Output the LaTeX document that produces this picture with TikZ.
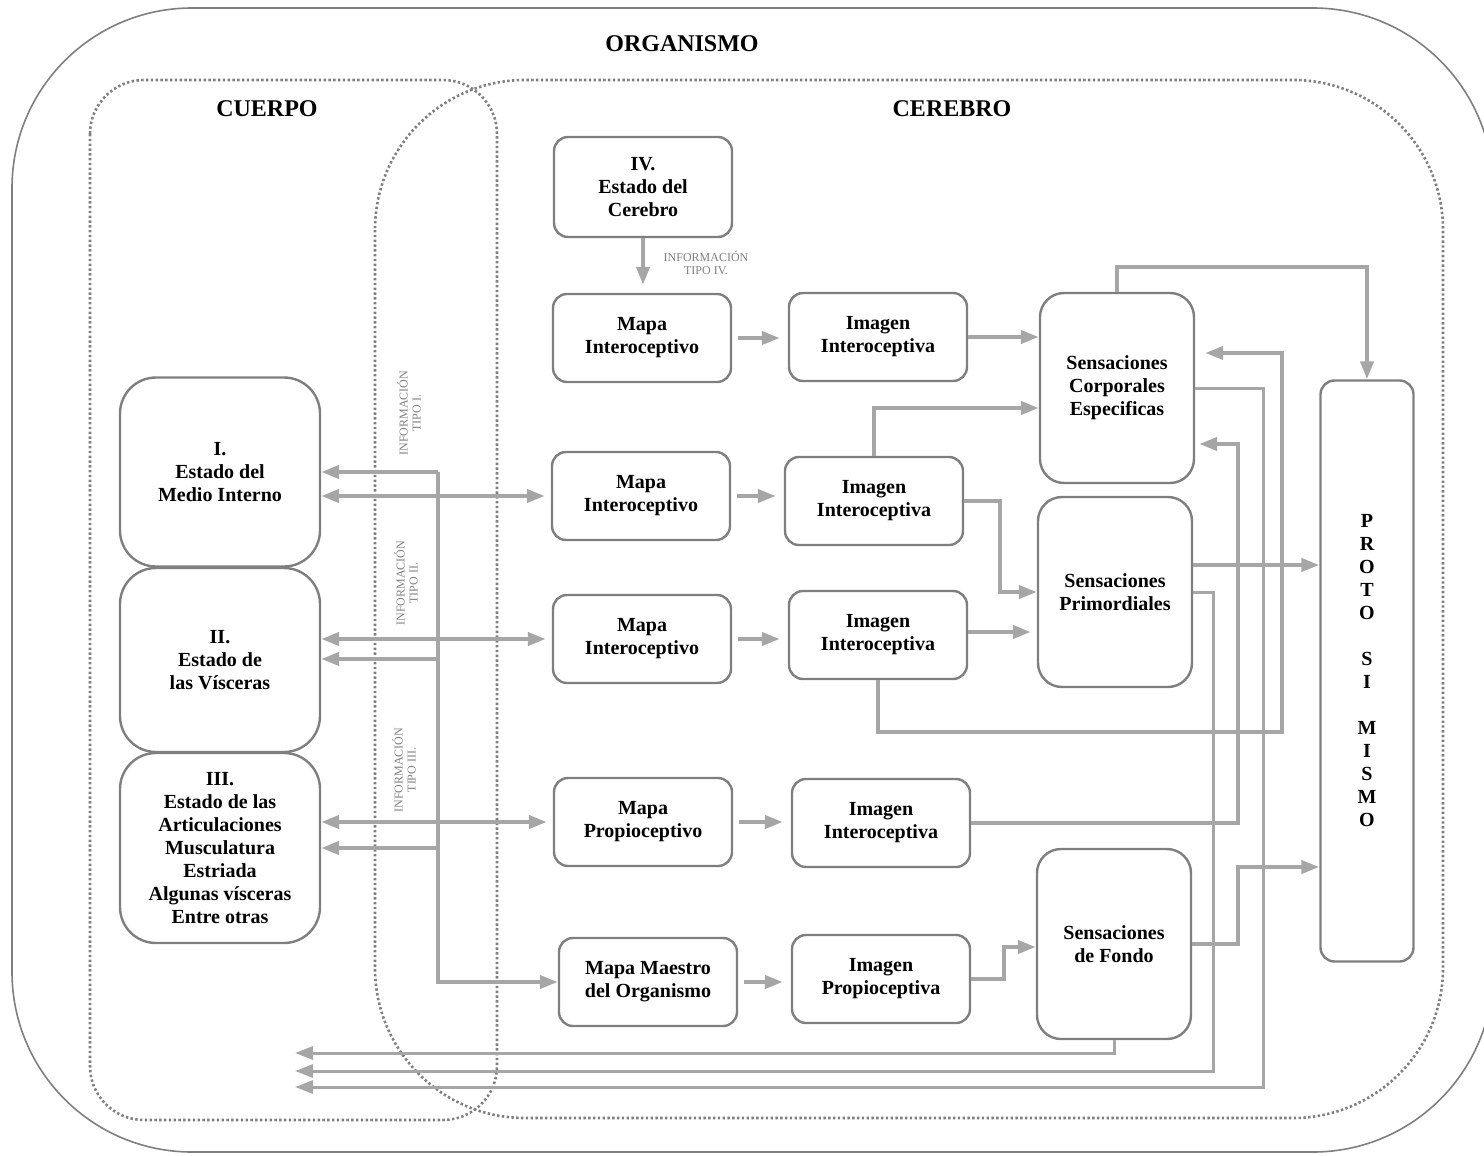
\documentclass[tikz,border=0pt]{standalone}
\usepackage{fontspec}
\setmainfont{Liberation Serif}
\usetikzlibrary{arrows.meta}
\definecolor{borde}{HTML}{7F7F7F}
\definecolor{flechagris}{HTML}{A6A6A6}

\begin{document}
\begin{tikzpicture}[x=0.5pt, y=-0.5pt,
  caja/.style={draw=borde, line width=1.2pt, rounded corners=7pt, fill=white, align=center, inner sep=0pt,
    minimum width=89pt, minimum height=44pt, font=\fontsize{10}{11.5}\selectfont\bfseries},
  sensa/.style={caja, rounded corners=12pt, minimum width=77pt, minimum height=95pt},
  estado/.style={caja, rounded corners=18pt, minimum width=100pt},
  titulo/.style={font=\fontsize{12}{14}\selectfont\bfseries},
  nota/.style={text=borde, align=center, font=\fontsize{6}{6.5}\selectfont},
  zona/.style={draw=borde, line width=1.3pt, dash pattern=on 1.2pt off 1.2pt},
  flecha/.style={draw=flechagris, line width=2pt, -{Triangle[length=9pt,width=6.5pt]}},
  doble/.style={flecha, {Triangle[length=9pt,width=6.5pt]}-{Triangle[length=9pt,width=6.5pt]}},
  retorno/.style={flecha, line width=1.5pt}
]
\clip(0,0) rectangle (1484,1156);
\draw[borde, line width=0.8pt, rounded corners=90pt](12,8) rectangle (1493,1152);
\draw[zona, rounded corners=27pt](90,80) rectangle (497,1120);
\draw[zona, rounded corners=75pt](375,80) rectangle (1443,1118);

\node[titulo] (organismo) at (682,44) {ORGANISMO};
\node[titulo] (cuerpo) at (267,109) {CUERPO};
\node[titulo] (cerebro) at (952,109) {CEREBRO};

\node[caja, minimum height=50pt] (iv) at (643,187) {IV.\\Estado del\\Cerebro};
\node[caja] (mapa1) at (642,338) {Mapa\\Interoceptivo};
\node[caja] (img1) at (878,337) {Imagen\\Interoceptiva};
\node[caja] (mapa2) at (641,496) {Mapa\\Interoceptivo};
\node[caja] (img2) at (874,501) {Imagen\\Interoceptiva};
\node[caja] (mapa3) at (642,639) {Mapa\\Interoceptivo};
\node[caja] (img3) at (878,635) {Imagen\\Interoceptiva};
\node[caja] (mprop) at (643,822) {Mapa\\Propioceptivo};
\node[caja] (img4) at (881,823) {Imagen\\Interoceptiva};
\node[caja] (mmaestro) at (648,982) {Mapa Maestro\\del Organismo};
\node[caja] (iprop) at (881,979) {Imagen\\Propioceptiva};
\node[sensa] (sce) at (1117,388) {Sensaciones\\Corporales\\Especificas};
\node[sensa] (spr) at (1115,592) {Sensaciones\\Primordiales};
\node[sensa] (sfondo) at (1114,944) {Sensaciones\\de Fondo};
\node[caja, minimum width=46.5pt, minimum height=290.5pt] (proto) at (1367,671)
  {P\\R\\O\\T\\O\\[11.5pt]S\\I\\[11.5pt]M\\I\\S\\M\\O};
\node[estado, minimum height=94.5pt] (est1) at (220,472) {I.\\Estado del\\Medio Interno};
\node[estado, minimum height=92pt] (est2) at (220,660) {II.\\Estado de\\las Vísceras};
\node[estado, minimum height=95pt] (est3) at (220,848)
  {III.\\Estado de las\\Articulaciones\\Musculatura\\Estriada\\Algunas vísceras\\Entre otras};

\node[nota] (tipo4) at (706,263) {INFORMACIÓN\\TIPO IV.};
\node[nota, rotate=90] (tipo1) at (409,413) {INFORMACIÓN\\TIPO I.};
\node[nota, rotate=90] (tipo2) at (406,583) {INFORMACIÓN\\TIPO II.};
\node[nota, rotate=90] (tipo3) at (404,770) {INFORMACIÓN\\TIPO III.};

\coordinate (b1) at (438,472);
\coordinate (b2) at (438,659);
\coordinate (b3) at (438,848);
\coordinate (b4) at (438,982);
\coordinate (ret1) at (295,1053);
\coordinate (ret2) at (295,1071);
\coordinate (ret3) at (295,1087);

\draw[flecha, shorten >=4pt](iv.south) -- (iv.south |- mapa1.north);
\foreach \a/\b in {mapa1/img1, mapa2/img2, mapa3/img3, mprop/img4, mmaestro/iprop}{
	\draw[flecha, shorten <=3pt, shorten >=4pt](\a.east) -- (\a.east -| \b.west);
}
\draw[flecha](img1.east) -- (img1.east -| sce.west);
\draw[flecha](img2.north) |- (sce.west |- 0,408);
\draw[flecha](img2.east) -- ++(36,0) |- (spr.west);
\draw[flecha, shorten >=3pt](img3.east |- 0,632) -- (spr.west |- 0,632);
\draw[flecha, shorten >=5pt](img3.south) |- (1282,732) |- (sce.east |- 0,353);
\draw[flecha, shorten >=2pt](img4.east) -| (1238,444) -- (sce.east |- 0,444);
\draw[flecha](sce.north) |- (proto.north |- 0,267) -- (proto.north);
\draw[retorno](sce.east) -| (1263,1087) -- (ret3);
\draw[flecha](spr.east |- 0,565) -- (proto.west |- 0,565);
\draw[retorno](spr.east) -| (1213,1071) -- (ret2);
\draw[flecha](sfondo.east) -| (1238,867) -- (proto.west |- 0,867);
\draw[retorno](sfondo.south) |- (ret1);
\draw[flecha](iprop.east) -- ++(33,0) |- (sfondo.west |- 0,947);

\draw[flecha](b1) -- (b4) -- (mmaestro.west);
\foreach \e/\c in {est1/b1, est2/b2, est3/b3}{
	\draw[flecha](\c) -- (\e.east |- \c);
}
\foreach \e/\m in {est1/mapa2, est2/mapa3, est3/mprop}{
	\draw[doble, shorten >=3pt](\m.west -| \e.east) -- (\m.west);
}
\end{tikzpicture}
\end{document}
